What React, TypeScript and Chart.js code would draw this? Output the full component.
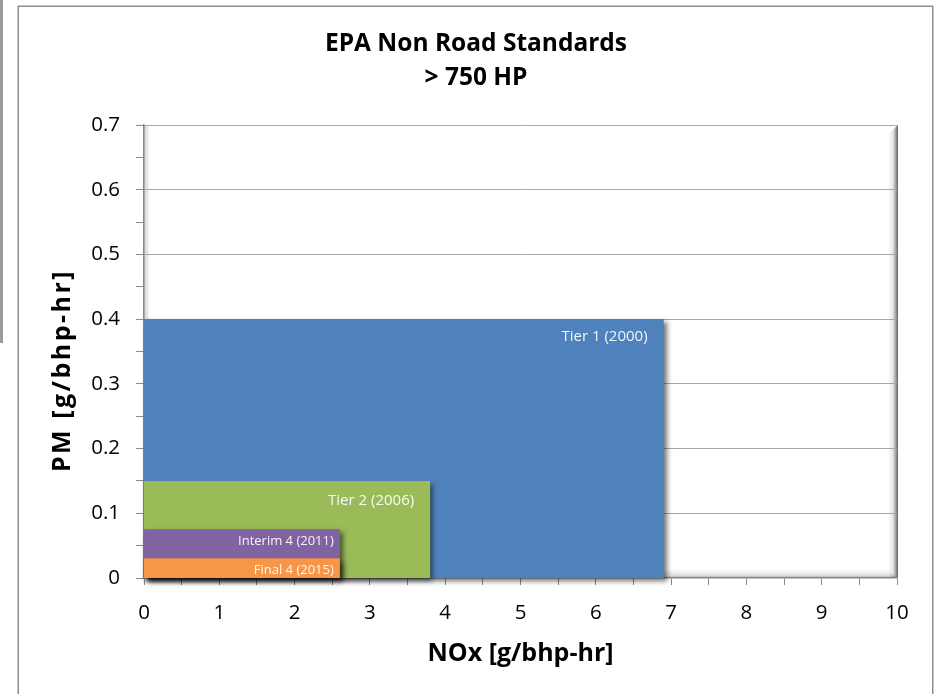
import React, { useEffect, useRef } from 'react';
import { Chart, registerables } from 'chart.js';

Chart.register(...registerables);

const CANVAS_W = 939;
const CANVAS_H = 694;
const FONT = '"Open Sans", "DejaVu Sans", sans-serif';

// ---- data ----
const titleLines = ['EPA Non Road Standards', '> 750 HP'];
const xAxisTitle = 'NOx [g/bhp-hr]';
const yAxisTitle = 'PM [g/bhp-hr]';
const tierNames = ['Tier 1 (2000)', 'Tier 2 (2006)', 'Interim 4 (2011)', 'Final 4 (2015)'];
const noxLimits = [6.9, 3.8, 2.6, 2.6];
const pmLimits = [0.4, 0.15, 0.075, 0.03];
const xTickLabels = ['0', '1', '2', '3', '4', '5', '6', '7', '8', '9', '10'];
const yTickLabels = ['0', '0.1', '0.2', '0.3', '0.4', '0.5', '0.6', '0.7'];

// ---- styles ----
const tierColors = ['#4F81BD', '#9BBB59', '#8064A2', '#F79646'];
const tierLabelSize = [15, 15, 13, 13];
const tierLabelInset = [16, 16, 6, 6];
const tierLabelDrop = [18, 19.5, 11.5, 11.5];

function drawShadowFor(chart: any, meta: any) {
  if (!meta || !meta.data || meta.data.length < 2) return;
  const ctx = chart.ctx;
  const p0 = meta.data[0];
  const p1 = meta.data[meta.data.length - 1];
  const yBase = chart.scales.y.getPixelForValue(0);
  ctx.save();
  ctx.shadowColor = 'rgba(0,0,0,0.55)';
  ctx.shadowBlur = 5;
  ctx.shadowOffsetX = 3;
  ctx.shadowOffsetY = 3;
  ctx.fillStyle = tierColors[meta.index];
  ctx.fillRect(p0.x, p1.y, p1.x - p0.x, yBase - p1.y);
  ctx.restore();
}

const decorPlugin = {
  id: 'decor',
  beforeDraw(chart: any) {
    const { ctx, chartArea: a, width, height } = chart;
    ctx.save();
    ctx.fillStyle = '#ffffff';
    ctx.fillRect(0, 0, width, height);
    // side strip & outer frame
    ctx.fillStyle = '#9b9b9b';
    ctx.fillRect(0, 0, 3, 343);
    ctx.strokeStyle = '#8e8e8e';
    ctx.lineWidth = 1.5;
    ctx.beginPath();
    ctx.moveTo(18.25, height + 4);
    ctx.lineTo(18.25, 6.25);
    ctx.lineTo(932.75, 6.25);
    ctx.lineTo(932.75, height + 4);
    ctx.stroke();

    // plot area inner shading (right, bottom, left)
    let g = ctx.createLinearGradient(a.right - 9, 0, a.right + 1, 0);
    g.addColorStop(0, 'rgba(0,0,0,0)');
    g.addColorStop(0.5, 'rgba(0,0,0,0.1)');
    g.addColorStop(0.8, 'rgba(0,0,0,0.4)');
    g.addColorStop(1, 'rgba(0,0,0,0.62)');
    ctx.fillStyle = g;
    ctx.beginPath();
    ctx.moveTo(a.right - 9, a.top + 9);
    ctx.lineTo(a.right + 1, a.top);
    ctx.lineTo(a.right + 1, a.bottom);
    ctx.lineTo(a.right - 9, a.bottom);
    ctx.closePath();
    ctx.fill();

    g = ctx.createLinearGradient(0, a.bottom - 9, 0, a.bottom);
    g.addColorStop(0, 'rgba(0,0,0,0)');
    g.addColorStop(0.7, 'rgba(0,0,0,0.12)');
    g.addColorStop(1, 'rgba(0,0,0,0.35)');
    ctx.fillStyle = g;
    ctx.beginPath();
    ctx.moveTo(a.left, a.bottom - 9);
    ctx.lineTo(a.right - 9, a.bottom - 9);
    ctx.lineTo(a.right, a.bottom);
    ctx.lineTo(a.left, a.bottom);
    ctx.closePath();
    ctx.fill();

    g = ctx.createLinearGradient(a.left, 0, a.left + 6, 0);
    g.addColorStop(0, 'rgba(0,0,0,0.2)');
    g.addColorStop(1, 'rgba(0,0,0,0)');
    ctx.fillStyle = g;
    ctx.fillRect(a.left, a.top, 6, a.bottom - a.top);
    ctx.restore();
  },
  beforeDatasetsDraw(chart: any) {
    const metas = chart.getSortedVisibleDatasetMetas();
    drawShadowFor(chart, metas[metas.length - 1]);
  },
  afterDatasetDraw(chart: any, args: any) {
    const metas = chart.getSortedVisibleDatasetMetas();
    const pos = metas.indexOf(args.meta);
    if (pos > 0) drawShadowFor(chart, metas[pos - 1]);
  },
  afterDatasetsDraw(chart: any) {
    const ctx = chart.ctx;
    ctx.save();
    ctx.textAlign = 'right';
    ctx.textBaseline = 'middle';
    ctx.fillStyle = 'rgba(255,255,255,0.92)';
    tierNames.forEach((name, i) => {
      const meta = chart.getDatasetMeta(i);
      const p1 = meta.data[meta.data.length - 1];
      ctx.font = `${tierLabelSize[i]}px ${FONT}`;
      ctx.fillText(name, p1.x - tierLabelInset[i], p1.y + tierLabelDrop[i]);
    });
    ctx.restore();
  },
  afterDraw(chart: any) {
    const { ctx, chartArea: a } = chart;
    ctx.save();
    ctx.translate(63, (a.top + a.bottom) / 2 + 19);
    ctx.rotate(-Math.PI / 2);
    ctx.font = `bold 25px ${FONT}`;
    try { (ctx as any).letterSpacing = '2.5px'; } catch (e) {}
    ctx.textAlign = 'center';
    ctx.textBaseline = 'middle';
    ctx.fillStyle = '#000';
    ctx.fillText(yAxisTitle, 0, 0);
    ctx.restore();
  },
};

export default function App() {
  const ref = useRef<HTMLCanvasElement>(null);
  useEffect(() => {
    if (!ref.current) return;
    const chart = new Chart(ref.current, {
      type: 'line',
      data: {
        datasets: tierNames.map((name, i) => ({
          label: name,
          data: [
            { x: 0, y: pmLimits[i] },
            { x: noxLimits[i], y: pmLimits[i] },
          ],
          backgroundColor: tierColors[i],
          borderColor: tierColors[i],
          borderWidth: 0,
          pointRadius: 0,
          pointHoverRadius: 0,
          fill: 'origin',
          tension: 0,
          order: tierNames.length - i,
        })),
      },
      options: {
        responsive: false,
        animation: false,
        devicePixelRatio: 1,
        events: [],
        layout: { padding: { left: 55, right: 42, top: 0, bottom: 0 } },
        plugins: {
          legend: { display: false },
          tooltip: { enabled: false },
          title: {
            display: true,
            text: titleLines,
            color: '#000',
            font: { family: FONT, size: 24.5, weight: 'bold', lineHeight: 34 / 24.5 },
            padding: { top: 27, bottom: 30 },
          },
        },
        scales: {
          x: {
            type: 'linear',
            min: 0,
            max: 10,
            afterFit: (s: any) => { s.height = 116; },
            ticks: {
              stepSize: 0.5,
              autoSkip: false,
              maxRotation: 0,
              padding: 16,
              color: '#000',
              font: { family: FONT, size: 20.5 },
              callback: (v: any) => {
                const n = Number(v);
                return Number.isInteger(n) ? xTickLabels[n] ?? '' : '';
              },
            },
            grid: { drawOnChartArea: false, tickLength: 7, tickColor: '#8a8a8a', tickWidth: 1 },
            border: { color: '#868686', width: 1.5 },
            title: {
              display: true,
              text: xAxisTitle,
              color: '#000',
              font: { family: FONT, size: 25, weight: 'bold', lineHeight: 1.2 },
              padding: { top: 0, bottom: 25 },
            },
          },
          y: {
            type: 'linear',
            min: 0,
            max: 0.7,
            afterFit: (s: any) => { s.width = 89; },
            ticks: {
              stepSize: 0.05,
              autoSkip: false,
              padding: 16,
              color: '#000',
              font: { family: FONT, size: 20.5 },
              callback: (v: any) => {
                const k = Math.round(Number(v) * 20);
                return k % 2 === 0 ? yTickLabels[k / 2] ?? '' : '';
              },
            },
            grid: {
              color: (c: any) => {
                const k = Math.round(Number(c.tick?.value ?? 0) * 20);
                return k > 0 && k % 2 === 0 ? '#a8a8a8' : 'rgba(0,0,0,0)';
              },
              tickColor: '#8a8a8a',
              tickLength: 8,
              lineWidth: 1,
            },
            border: { color: '#868686', width: 1.5 },
          },
        },
      },
      plugins: [decorPlugin],
    } as any);
    return () => chart.destroy();
  }, []);

  return (
    <div style={{ position: 'fixed', left: 0, top: 0, width: CANVAS_W, height: CANVAS_H }}>
      <canvas ref={ref} width={CANVAS_W} height={CANVAS_H} style={{ display: 'block', width: CANVAS_W, height: CANVAS_H }} />
    </div>
  );
}
